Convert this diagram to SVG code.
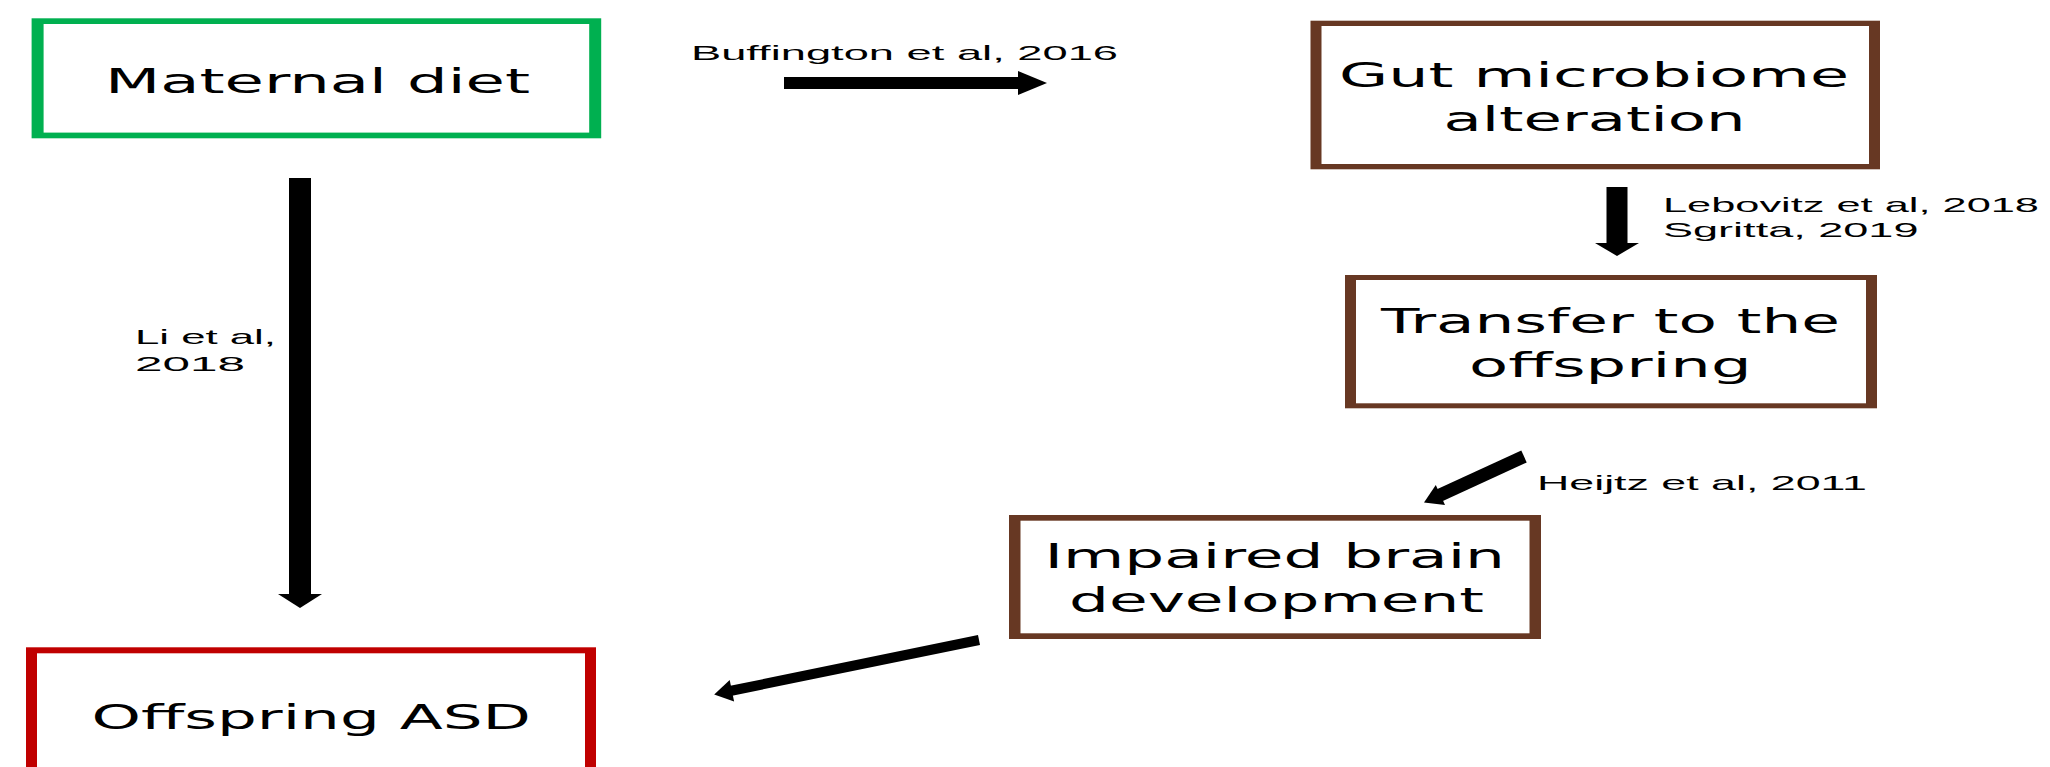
<svg xmlns="http://www.w3.org/2000/svg" width="2050" height="767" viewBox="0 0 2050 767">
<style>
.green{fill:#00B050}
.brown{fill:#673823}
.red{fill:#C00000}
.inner{fill:#FFFFFF}
.node{font-family:"DejaVu Sans","Liberation Sans",sans-serif;font-size:34px;fill:#000}
.lbl{font-family:"Liberation Sans",Arial,sans-serif;font-size:21px;fill:#000}
.shaft{stroke:#000;fill:none;stroke-linecap:butt}
.head{fill:#000}
</style>
<rect x="0" y="0" width="2050" height="767" fill="#FFFFFF"/>

<g id="node-maternal-diet">
  <rect class="green" x="31.6" y="18.3" width="569.6" height="120"/>
  <rect class="inner" x="43.6" y="24" width="545.6" height="108.6"/>
  <text class="node" x="105" y="93" textLength="425" lengthAdjust="spacingAndGlyphs">Maternal diet</text>
</g>

<g id="node-gut-microbiome">
  <rect class="brown" x="1310.5" y="20.7" width="569.5" height="148.6"/>
  <rect class="inner" x="1321.5" y="26" width="547.5" height="138"/>
  <text class="node" x="1339" y="87" textLength="510" lengthAdjust="spacingAndGlyphs">Gut microbiome</text>
  <text class="node" x="1443.5" y="131" textLength="302" lengthAdjust="spacingAndGlyphs">alteration</text>
</g>

<g id="node-transfer">
  <rect class="brown" x="1345" y="275" width="532" height="133.3"/>
  <rect class="inner" x="1356" y="280" width="510" height="123.3"/>
  <text class="node" x="1381" y="333" textLength="459" lengthAdjust="spacingAndGlyphs">Transfer to the</text>
  <text class="node" x="1469" y="377" textLength="282.5" lengthAdjust="spacingAndGlyphs">offspring</text>
</g>

<g id="node-impaired-brain">
  <rect class="brown" x="1009" y="515" width="532" height="124"/>
  <rect class="inner" x="1020.5" y="520.7" width="509" height="112.6"/>
  <text class="node" x="1044.5" y="568" textLength="460.5" lengthAdjust="spacingAndGlyphs">Impaired brain</text>
  <text class="node" x="1069" y="612" textLength="415" lengthAdjust="spacingAndGlyphs">development</text>
</g>

<g id="node-offspring-asd">
  <rect class="red" x="26" y="647.3" width="570" height="150"/>
  <rect class="inner" x="37" y="653.3" width="548" height="140"/>
  <text class="node" x="91.5" y="729" textLength="439.5" lengthAdjust="spacingAndGlyphs">Offspring ASD</text>
</g>

<g id="connectors">
  <line class="shaft" x1="784" y1="83" x2="1022" y2="83" stroke-width="12"/>
  <polygon class="head" points="1018,71 1047,83 1018,95"/>
  <text class="lbl" x="691" y="60" textLength="427" lengthAdjust="spacingAndGlyphs">Buffington et al, 2016</text>

  <line class="shaft" x1="1617" y1="187" x2="1617" y2="246" stroke-width="21"/>
  <polygon class="head" points="1595,243 1639,243 1617,256"/>
  <text class="lbl" x="1663" y="212" textLength="376" lengthAdjust="spacingAndGlyphs">Lebovitz et al, 2018</text>
  <text class="lbl" x="1663" y="237" textLength="255.5" lengthAdjust="spacingAndGlyphs">Sgritta, 2019</text>

  <line class="shaft" x1="300" y1="178" x2="300" y2="597" stroke-width="22"/>
  <polygon class="head" points="278,594 322,594 300,608"/>
  <text class="lbl" x="135" y="344" textLength="141" lengthAdjust="spacingAndGlyphs">Li et al,</text>
  <text class="lbl" x="135" y="371" textLength="110" lengthAdjust="spacingAndGlyphs">2018</text>

  <line class="shaft" x1="1524" y1="456.5" x2="1438" y2="496" stroke-width="13"/>
  <polygon class="head" points="1445,505 1435.8,485 1424,502.6"/>
  <text class="lbl" x="1537" y="490" textLength="330" lengthAdjust="spacingAndGlyphs">Heijtz et al, 2011</text>

  <line class="shaft" x1="979" y1="640" x2="730" y2="691" stroke-width="10"/>
  <polygon class="head" points="734.1,701.6 729.7,680 714.2,694.4"/>
</g>
</svg>
